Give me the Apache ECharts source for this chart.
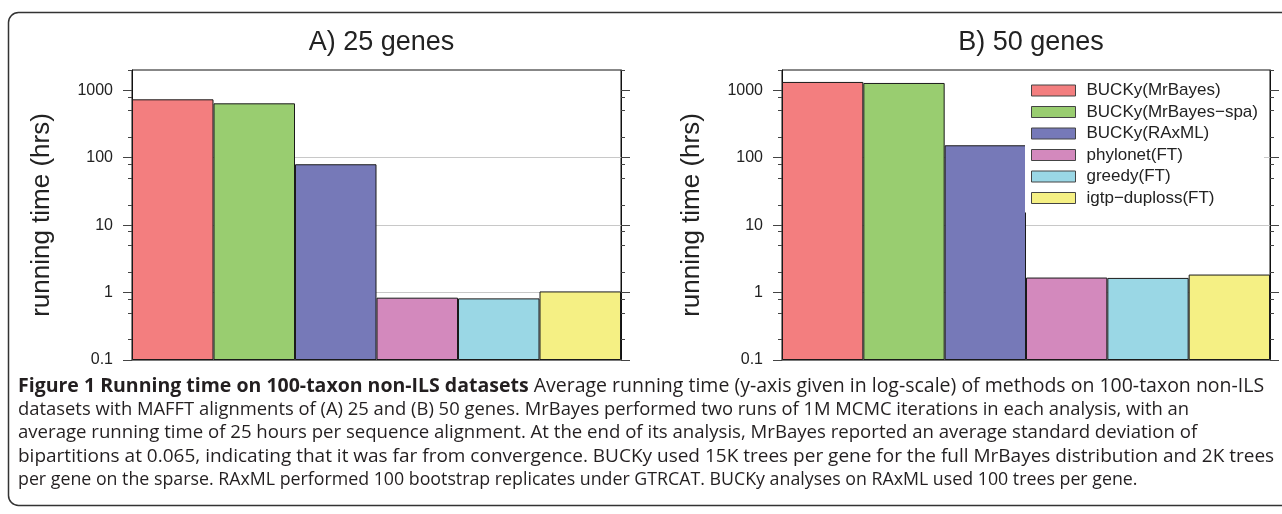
<!DOCTYPE html>
<html><head><meta charset="utf-8">
<script src="https://cdn.jsdelivr.net/npm/echarts@6/dist/echarts.min.js"></script>
<style>html,body{margin:0;padding:0;background:#fff}#c{width:1282px;height:514px}</style>
</head><body><div id="c"></div>
<script>
const methods = ['BUCKy(MrBayes)', 'BUCKy(MrBayes\u2212spa)', 'BUCKy(RAxML)', 'phylonet(FT)', 'greedy(FT)', 'igtp\u2212duploss(FT)'];
const colors = ['#f37e7f', '#99cd70', '#7679b8', '#d389bd', '#9ad7e5', '#f5f084'];
const genes25 = [735, 641, 80, 0.84, 0.82, 1.04];
const genes50 = [1330, 1285, 153, 1.67, 1.65, 1.85];
const panelTitles = ['A) 25 genes', 'B) 50 genes'];
const majorTicks = [0.1, 1, 10, 100, 1000];
const minorTicks = [0.2, 0.5, 0.8, 2, 5, 8, 20, 50, 80, 200, 500, 800, 2000];
const yMin = 0.1, yMax = 2000;
const yName = 'running time (hrs)';
const captionLines = [
  '{b|Figure 1 Running time on 100-taxon non-ILS datasets} Average running time (y-axis given in log-scale) of methods on 100-taxon non-ILS',
  'datasets with MAFFT alignments of (A) 25 and (B) 50 genes. MrBayes performed two runs of 1M MCMC iterations in each analysis, with an',
  'average running time of 25 hours per sequence alignment. At the end of its analysis, MrBayes reported an average standard deviation of',
  'bipartitions at 0.065, indicating that it was far from convergence. BUCKy used 15K trees per gene for the full MrBayes distribution and 2K trees',
  'per gene on the sparse. RAxML performed 100 bootstrap replicates under GTRCAT. BUCKy analyses on RAxML used 100 trees per gene.'
];
const captionSizes = [19.5, 18.4, 18.6, 19.0, 17.8];

const panels = [genes25, genes50];
const FONT = 'Liberation Sans, Arial, Helvetica, sans-serif';
const gridLeft = [132, 782], gridWidth = [489, 488];
const grids = [], xAxes = [], yAxes = [], series = [], titles = [];
const fmt = v => String(+(+v).toPrecision(6));

panels.forEach((vals, i) => {
  grids.push({left: gridLeft[i], top: 70, width: gridWidth[i], height: 290,
    show: true, borderColor: '#111', borderWidth: 1, backgroundColor: '#fff'});
  titles.push({text: panelTitles[i], left: gridLeft[i] + gridWidth[i] / 2, top: 24, textAlign: 'center',
    textStyle: {fontFamily: FONT, fontSize: 27, fontWeight: 'normal', color: '#222'}});
  xAxes.push({type: 'category', gridIndex: i, data: methods, boundaryGap: true,
    axisLine: {show: true, onZero: false, lineStyle: {color: '#777', width: 1.5}}, axisTick: {show: false}, axisLabel: {show: false}});
  const base = {type: 'log', gridIndex: i, min: yMin, max: yMax, logBase: 10};
  yAxes.push(Object.assign({}, base, {position: 'left', startValue: yMin,
    name: yName, nameLocation: 'middle', nameGap: 77,
    nameTextStyle: {fontFamily: FONT, fontSize: 26, color: '#222'},
    axisLine: {show: true, onZero: false, lineStyle: {color: '#111'}},
    axisTick: {show: true, customValues: majorTicks, length: 9, lineStyle: {color: '#444'}},
    axisLabel: {customValues: majorTicks, formatter: fmt, margin: 19, fontFamily: FONT, fontSize: 16, color: '#222'},
    splitLine: {show: true, showMinLine: false, showMaxLine: false, lineStyle: {color: '#c8c8c8', width: 1}}}));
  yAxes.push(Object.assign({}, base, {position: 'left',
    axisLine: {show: false}, axisTick: {show: true, customValues: minorTicks, length: 4, lineStyle: {color: '#444'}},
    axisLabel: {show: false}, splitLine: {show: false}}));
  yAxes.push(Object.assign({}, base, {position: 'right',
    axisLine: {show: true, onZero: false, lineStyle: {color: '#111'}},
    axisTick: {show: true, customValues: majorTicks, length: 9, lineStyle: {color: '#444'}},
    axisLabel: {show: false}, splitLine: {show: false}}));
  yAxes.push(Object.assign({}, base, {position: 'right',
    axisLine: {show: false}, axisTick: {show: true, customValues: minorTicks, length: 4, lineStyle: {color: '#444'}},
    axisLabel: {show: false}, splitLine: {show: false}}));
  methods.forEach((m, j) => {
    series.push({type: 'bar', name: m, xAxisIndex: i, yAxisIndex: 4 * i,
      data: vals.map((v, k) => (k === j ? v : null)),
      barWidth: '100%', barGap: '-100%',
      itemStyle: {color: colors[j], borderColor: '#1a1a1a', borderWidth: 1}});
  });
});

const graphics = [{type: 'rect', z: 100, silent: true,
  shape: {x: 8.5, y: 12.5, width: 1300, height: 493, r: 10},
  style: {fill: 'none', stroke: '#333', lineWidth: 1.5}}];
captionLines.forEach((t, k) => {
  const fs = captionSizes[k];
  graphics.push({type: 'text', x: 18, y: 386 + k * 23.5, z: 100,
    style: {text: t, fill: '#231f20', fontFamily: 'Open Sans', fontSize: fs, verticalAlign: 'middle',
      rich: {b: {fontWeight: 'bold', fontFamily: 'Open Sans', fontSize: fs, fill: '#231f20'}}}});
});

const chart = echarts.init(document.getElementById('c'), null, {renderer: 'canvas'});
chart.setOption({
  animation: false,
  backgroundColor: '#fff',
  title: titles,
  grid: grids, xAxis: xAxes, yAxis: yAxes, series: series,
  legend: {data: methods, orient: 'vertical', left: 1025, top: 76, itemWidth: 44, itemHeight: 11, itemGap: 4.5,
    backgroundColor: '#fff', padding: [6, 6, 6, 6], icon: 'rect',
    itemStyle: {borderColor: '#444', borderWidth: 1},
    textStyle: {fontFamily: FONT, fontSize: 17, color: '#222', lineHeight: 17, padding: [0, 0, 0, 6]}},
  graphic: graphics
});
</script></body></html>
